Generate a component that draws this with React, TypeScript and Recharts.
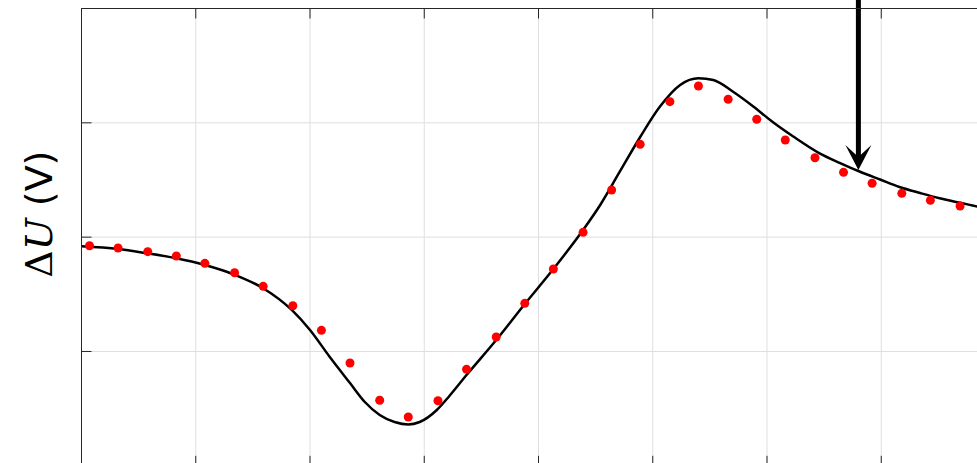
import {
  ComposedChart,
  Line,
  Scatter,
  XAxis,
  YAxis,
  CartesianGrid,
  ReferenceLine,
  ReferenceDot,
} from "recharts";

const xTicks = [0, 1, 2, 3, 4, 5, 6, 7, 8];
const yTicks = [0, 1, 2, 3, 4];

// measured points (red dots)
const measuredX = [
  0.07, 0.32, 0.58, 0.83, 1.08, 1.34, 1.59, 1.85, 2.1, 2.35, 2.61, 2.86, 3.12,
  3.37, 3.63, 3.88, 4.13, 4.39, 4.64, 4.89, 5.15, 5.4, 5.66, 5.91, 6.16, 6.42,
  6.67, 6.92, 7.18, 7.43, 7.69,
];
const measuredU = [
  1.925, 1.905, 1.873, 1.835, 1.771, 1.689, 1.57, 1.4, 1.185, 0.899, 0.573,
  0.427, 0.569, 0.844, 1.127, 1.421, 1.721, 2.042, 2.412, 2.812, 3.185, 3.322,
  3.206, 3.031, 2.85, 2.695, 2.567, 2.471, 2.383, 2.322, 2.272,
];

// model curve (black line)
const fitX = [
  0, 0.32, 0.57, 0.83, 1.08, 1.33, 1.59, 1.84, 2.0, 2.17, 2.35, 2.48, 2.61,
  2.74, 2.86, 2.96, 3.11, 3.22, 3.37, 3.63, 3.88, 4.13, 4.39, 4.54, 4.71, 4.89,
  5.06, 5.24, 5.4, 5.53, 5.7, 5.88, 6.05, 6.23, 6.46, 6.64, 6.81, 6.99, 7.16,
  7.34, 7.51, 7.69, 7.84, 8.0,
];
const fitU = [
  1.92, 1.896, 1.859, 1.815, 1.756, 1.675, 1.553, 1.363, 1.188, 0.956, 0.724,
  0.558, 0.444, 0.383, 0.361, 0.383, 0.488, 0.611, 0.794, 1.1, 1.415, 1.721,
  2.062, 2.281, 2.57, 2.876, 3.138, 3.331, 3.389, 3.374, 3.274, 3.143, 3.007,
  2.88, 2.733, 2.648, 2.574, 2.504, 2.439, 2.386, 2.34, 2.301, 2.268, 2.238,
];

// annotation arrow
const arrowX = 6.8;
const arrowTopU = 4.3;
const arrowShaftEndU = 2.655;
const arrowTipU = 2.587;

const measured = measuredX.map((x, i) => ({ x, u: measuredU[i] }));
const fit = fitX.map((x, i) => ({ x, u: fitU[i] }));

const AXIS = "#262626";

function YLabel(props: any) {
  const vb = props.viewBox;
  const cx = vb.x - 29.5;
  const cy = vb.y + vb.height / 2 - 23;
  return (
    <text
      transform={`translate(${cx},${cy}) rotate(-90)`}
      textAnchor="middle"
      fontSize={38}
      fill="#000"
    >
      <tspan fontFamily="DejaVu Serif">Δ</tspan>
      <tspan fontFamily="DejaVu Serif" fontStyle="italic">
        U
      </tspan>
      <tspan fontFamily="DejaVu Sans"> (V)</tspan>
    </text>
  );
}

// tick labels are not shown, only the inward tick marks
function NoLabel() {
  return <g />;
}

function ArrowHead(props: any) {
  const { cx, cy } = props;
  return (
    <path
      d={`M${cx},${cy} L${cx - 13},${cy - 25} L${cx},${cy - 13} L${cx + 13},${cy - 25} Z`}
      fill="#000"
    />
  );
}

function RedDot(props: any) {
  return <circle cx={props.cx} cy={props.cy} r={4.5} fill="#ff0000" />;
}

export default function App() {
  return (
    <div
      style={{
        position: "fixed",
        left: 0,
        top: 0,
        width: 977,
        height: 463,
        overflow: "hidden",
        background: "#fff",
      }}
    >
      <ComposedChart
        width={1100}
        height={560}
        margin={{ top: 8.5, left: 81.5, right: 104.5, bottom: 94.2 }}
      >
        <CartesianGrid
          xAxisId="b"
          yAxisId="l"
          stroke="#dfdfdf"
          strokeWidth={1}
          verticalValues={xTicks}
          horizontalValues={yTicks}
        />
        <XAxis
          xAxisId="b"
          type="number"
          dataKey="x"
          domain={[0, 8]}
          ticks={xTicks}
          orientation="bottom"
          mirror
          tick={NoLabel}
          tickSize={10}
          stroke={AXIS}
          allowDataOverflow
        />
        <XAxis
          xAxisId="t"
          type="number"
          dataKey="x"
          domain={[0, 8]}
          ticks={xTicks}
          orientation="top"
          mirror
          tick={NoLabel}
          tickSize={10}
          stroke={AXIS}
          allowDataOverflow
        />
        <YAxis
          yAxisId="l"
          type="number"
          dataKey="u"
          domain={[0, 4]}
          ticks={yTicks}
          orientation="left"
          mirror
          tick={NoLabel}
          tickSize={10}
          stroke={AXIS}
          allowDataOverflow
          label={<YLabel />}
        />
        <YAxis
          yAxisId="r"
          type="number"
          dataKey="u"
          domain={[0, 4]}
          ticks={yTicks}
          orientation="right"
          mirror
          tick={NoLabel}
          tickSize={10}
          stroke={AXIS}
          allowDataOverflow
        />
        <Line
          xAxisId="b"
          yAxisId="l"
          data={fit}
          dataKey="u"
          type="monotone"
          stroke="#000"
          strokeWidth={2.5}
          dot={false}
          activeDot={false}
          isAnimationActive={false}
        />
        <Scatter
          xAxisId="t"
          yAxisId="r"
          data={measured}
          dataKey="u"
          fill="#ff0000"
          shape={RedDot}
          isAnimationActive={false}
        />
        <ReferenceLine
          xAxisId="b"
          yAxisId="l"
          segment={[
            { x: arrowX, y: arrowTopU },
            { x: arrowX, y: arrowShaftEndU },
          ]}
          stroke="#000"
          strokeWidth={5}
          ifOverflow="visible"
        />
        <ReferenceDot
          xAxisId="b"
          yAxisId="l"
          x={arrowX}
          y={arrowTipU}
          ifOverflow="visible"
          shape={ArrowHead}
        />
      </ComposedChart>
    </div>
  );
}
